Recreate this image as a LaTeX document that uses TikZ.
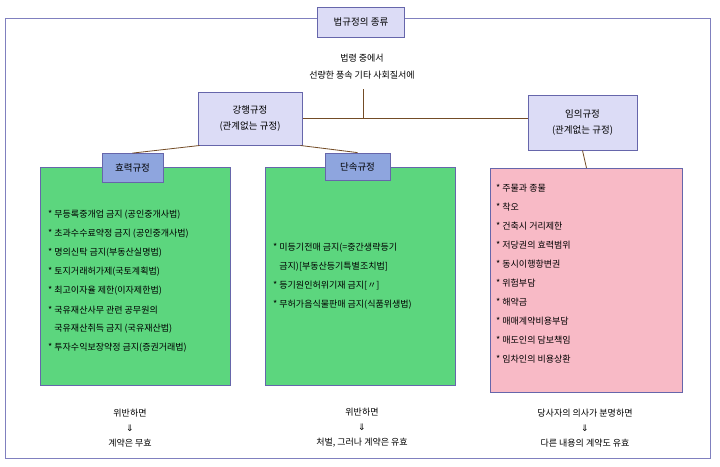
\documentclass[tikz,border=0pt]{standalone}
\usepackage{fontspec}
\setmainfont{Noto Sans CJK KR}
\newfontfamily\djv{DejaVu Sans}
\begin{document}
\begin{tikzpicture}[x=1pt,y=-1pt,
  box/.style={draw=black!55!blue!60,line width=1pt,fill=lav,inner sep=0pt},
  lbl/.style={draw=black!55!blue!60,line width=0.8pt,fill=lblue,inner sep=0pt},
  txt/.style={font=\fontsize{9}{10}\selectfont,inner sep=0pt},
  item/.style={font=\fontsize{9}{10}\selectfont,inner sep=0pt,anchor=west},
  ln/.style={draw=brown!60!black,line width=0.8pt}]
\definecolor{lav}{HTML}{DCDCF6}
\definecolor{lblue}{HTML}{8EA5DE}
\definecolor{grn}{HTML}{5CD67E}
\definecolor{pnk}{HTML}{F8BAC6}
\useasboundingbox (0,0) rectangle (720,466);
\fill[white] (0,0) rectangle (720,466);
\draw[draw=black!50!blue!50,line width=1pt] (5,18) rectangle (710,458);
\node[box,minimum width=87,minimum height=30,font=\fontsize{9.5}{11}\selectfont] (title) at (361,22) {법규정의 종류};
\node[txt] (t1) at (362,58) {법령 중에서};
\node[txt] (t2) at (362,75) {선량한 풍속 기타 사회질서에};
\node[box,minimum width=104,minimum height=53,align=center,font=\fontsize{9.5}{16}\selectfont] (kang) at (250,118.5) {강행규정\\(관계없는 규정)};
\node[box,minimum width=109,minimum height=55,align=center,font=\fontsize{9.5}{16}\selectfont] (imui) at (582.5,122.5) {임의규정\\(관계없는 규정)};
\coordinate (jn) at (363,118);
\draw[ln] (kang.east |- jn) -- (imui.west |- jn);
\draw[ln] (363,89) -- (jn);
\node[box,fill=grn,minimum width=190,minimum height=218,anchor=north west] (g1) at (40,167) {};
\node[box,fill=grn,minimum width=190,minimum height=218,anchor=north west] (g2) at (265,167) {};
\node[box,fill=pnk,minimum width=192,minimum height=224,anchor=north west] (pk) at (490,168) {};
\node[lbl,minimum width=61,minimum height=29,font=\fontsize{9.5}{11}\selectfont] (hl) at (132.5,168) {효력규정};
\node[lbl,minimum width=65,minimum height=27,font=\fontsize{9.5}{11}\selectfont] (dl) at (357.5,166.5) {단속규정};
\draw[ln] (kang.south west) ++(2,0) -- (hl.north);
\draw[ln] (kang.south east) ++(-2,0) -- (dl.north);
\draw[ln] (imui.south) -- (pk.north);
\foreach \t [count=\i] in {{* 무등록중개업 금지 (공인중개사법)},{* 초과수수료약정 금지 (공인중개사법)},{* 명의신탁 금지(부동산실명법)},{* 토지거래허가제(국토계획법)},{* 최고이자율 제한(이자제한법)},{* 국유재산사무 관련 공무원의},{\phantom{* }국유재산취득 금지 (국유재산법)},{* 투자수익보장약정 금지(증권거래법)}}
  \node[item] (ga\i) at (48,196+19*\i) {\t};
\foreach \t [count=\i] in {{* 미등기전매 금지(=중간생략등기},{\phantom{* }금지)[부동산등기특별조치법]},{* 등기원인허위기재 금지[〃]},{* 무허가음식물판매 금지(식품위생법)}}
  \node[item] (gb\i) at (273,229+19*\i) {\t};
\foreach \t [count=\i] in {{* 주물과 종물},{* 착오},{* 건축시 거리제한},{* 저당권의 효력범위},{* 동시이행항변권},{* 위험부담},{* 해약금},{* 매매계약비용부담},{* 매도인의 담보책임},{* 임차인의 비용상환}}
  \node[item] (p\i) at (496,169+19*\i) {\t};
\node[txt,align=center,font=\fontsize{9}{15}\selectfont] (b1) at (130,428) {위반하면\\{\djv ⇓}\\계약은 무효};
\node[txt,align=center,font=\fontsize{9}{15}\selectfont] (b2) at (362,428) {위반하면\\{\djv ⇓}\\처벌, 그러나 계약은 유효};
\node[txt,align=center,font=\fontsize{9}{15}\selectfont] (b3) at (585,428) {당사자의 의사가 분명하면\\{\djv ⇓}\\다른 내용의 계약도 유효};
\end{tikzpicture}
\end{document}
